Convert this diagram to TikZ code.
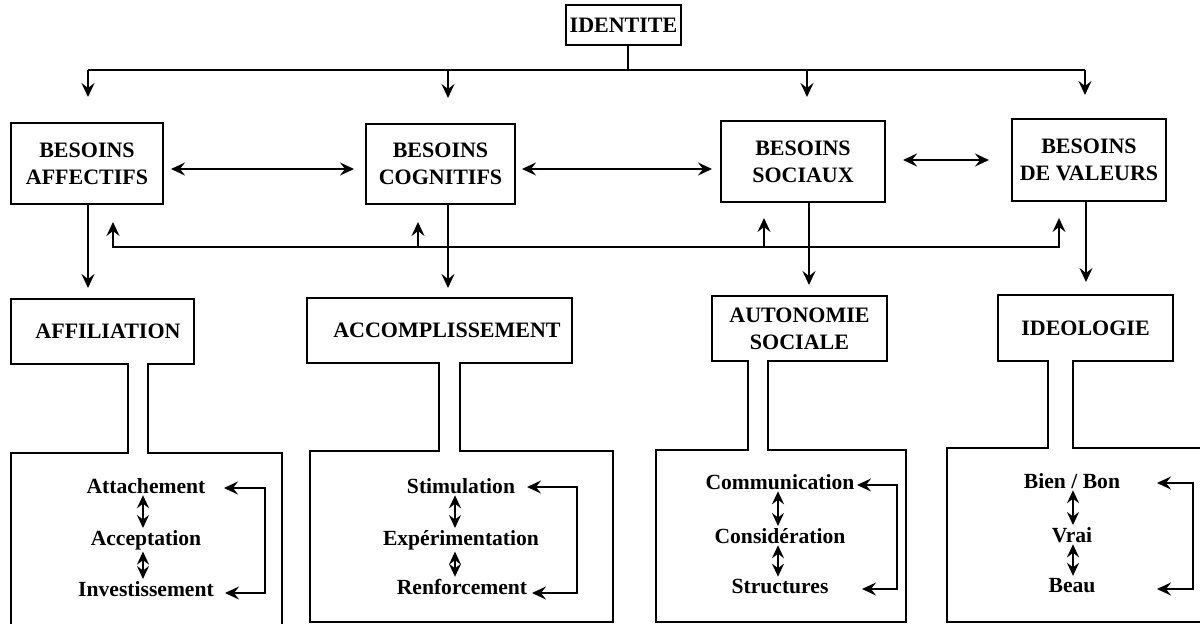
\documentclass[tikz,border=0pt]{standalone}
\usepackage{fontspec}
\setmainfont{Liberation Serif}
\usetikzlibrary{arrows.meta}
\begin{document}
\begin{tikzpicture}[x=1pt,y=-1pt,line width=2pt,
  ah/.tip={Stealth[length=14pt,width=13pt,inset=5pt]},
  sh/.tip={Stealth[length=13pt,width=12pt,inset=4.5pt]},
  arr/.style={-ah},
  darr/.style={ah-ah},
  sdarr/.style={sh-sh, shorten <=1pt, shorten >=1pt},
  hdr/.style={font=\fontsize{22}{27}\selectfont\bfseries, align=center, inner sep=0pt},
  bbox/.style={hdr, draw, line width=2pt},
  lbl/.style={font=\fontsize{21.6}{26}\selectfont\bfseries, inner sep=0pt, anchor=base},
  tshape/.style={line width=2pt, line join=miter}
]
\useasboundingbox (0,0) rectangle (1200,624);

% top level
\node[bbox, minimum width=115pt, minimum height=40pt] (id) at (623.5,25) {IDENTITE};
\node[bbox, minimum width=152pt, minimum height=81pt] (ba) at (87,163.5) {BESOINS\\AFFECTIFS};
\node[bbox, minimum width=149pt, minimum height=80pt] (bc) at (440.5,164) {BESOINS\\COGNITIFS};
\node[bbox, minimum width=164pt, minimum height=81pt] (bs) at (803,161.5) {BESOINS\\SOCIAUX};
\node[bbox, minimum width=154pt, minimum height=82pt] (bv) at (1089,160) {BESOINS\\DE VALEURS};

% bus from IDENTITE
\coordinate (s0) at (628,70);
\coordinate (b1) at (88,70);
\coordinate (b2) at (448,70);
\coordinate (b3) at (807,70);
\coordinate (b4) at (1085,70);
\draw (s0 |- id.south) -- (s0);
\draw (b1) -- (b4);
\draw[arr, shorten >=25pt] (b1) -- (b1 |- ba.north);
\draw[arr, shorten >=25pt] (b2) -- (b2 |- bc.north);
\draw[arr, shorten >=23pt] (b3) -- (b3 |- bs.north);
\draw[arr, shorten >=23pt] (b4) -- (b4 |- bv.north);

% horizontal double arrows
\draw[darr, shorten <=7pt, shorten >=11pt] ([yshift=-5.5pt]ba.east) -- ([yshift=-5pt]bc.west);
\draw[darr, shorten <=6pt, shorten >=8pt] ([yshift=-5pt]bc.east) -- ([yshift=-7.5pt]bs.west);
\draw[darr, shorten <=17pt, shorten >=22pt] ([yshift=1.5pt]bs.east) -- (bv.west);

% second level headers (text) and T outlines
\node[hdr, minimum width=183pt, minimum height=65pt] (h1) at (102.5,331.5) {\hspace*{11pt}AFFILIATION};
\node[hdr, minimum width=266pt, minimum height=65pt] (h2) at (440,330.5) {\hspace*{14pt}ACCOMPLISSEMENT};
\node[hdr, minimum width=175pt, minimum height=65pt] (h3) at (799.5,328.5) {AUTONOMIE\\SOCIALE};
\node[hdr, minimum width=175pt, minimum height=66pt] (h4) at (1085.5,328) {IDEOLOGIE};

\draw[tshape] (11,624) -- (11,453) -- (128,453) -- (128,364) -- (11,364) -- (11,299)
  -- (194,299) -- (194,364) -- (148,364) -- (148,453) -- (282,453) -- (282,624);
\draw[tshape] (307,298) -- (572,298) -- (572,363) -- (460,363) -- (460,451) -- (613,451)
  -- (613,622) -- (310,622) -- (310,451) -- (439,451) -- (439,363) -- (307,363) -- cycle;
\draw[tshape] (712,296) -- (887,296) -- (887,361) -- (768,361) -- (768,450) -- (906,450)
  -- (906,622) -- (656,622) -- (656,450) -- (748,450) -- (748,361) -- (712,361) -- cycle;
\draw[tshape] (1201,448) -- (1073,448) -- (1073,361) -- (1173,361) -- (1173,295) -- (998,295)
  -- (998,361) -- (1048,361) -- (1048,448) -- (947,448) -- (947,622) -- (1201,622);

% arrows down from besoins to second level
\draw[arr, shorten >=10pt] (b1 |- ba.south) -- (b1 |- h1.north);
\draw[arr, shorten >=9pt] (b2 |- bc.south) -- (b2 |- h2.north);
\coordinate (d3) at (809,0);
\coordinate (d4) at (1086,0);
\draw[arr, shorten >=10pt] (d3 |- bs.south) -- (d3 |- h3.north);
\draw[arr, shorten >=12pt] (d4 |- bv.south) -- (d4 |- h4.north);

% feedback line
\coordinate (f1) at (113,246.5);
\coordinate (f2) at (418,246.5);
\coordinate (f3) at (764,246.5);
\coordinate (f4) at (1059,246.5);
\draw[darr, shorten <=17pt, shorten >=16pt] (f1 |- ba.south) -- (f1) -- (f4) -- (f4 |- bv.south);
\draw[arr, shorten >=17pt] (f2) -- (f2 |- bc.south);
\draw[arr, shorten >=15pt] (f3) -- (f3 |- bs.south);

% lower box 1
\node[lbl] (t11) at (146,493) {Attachement};
\node[lbl] (t12) at (146,545) {Acceptation};
\node[lbl] (t13) at (146,596) {Investissement};
\coordinate (v1) at (143,0);
\draw[sdarr] (v1 |- t11.south) -- (v1 |- t12.north);
\draw[sdarr] (v1 |- t12.south) -- (v1 |- t13.north);
\coordinate (l1a) at (224,488);
\coordinate (l1b) at (225,593);
\draw[darr] (l1a) -- ++(41,0) |- (l1b);

% lower box 2
\node[lbl] (t21) at (461,493) {Stimulation};
\node[lbl] (t22) at (461,545) {Expérimentation};
\node[lbl] (t23) at (462,594) {Renforcement};
\coordinate (v2) at (455,0);
\draw[sdarr] (v2 |- t21.south) -- (v2 |- t22.north);
\draw[sdarr] (v2 |- t22.south) -- (v2 |- t23.north);
\coordinate (l2a) at (527,487);
\coordinate (l2b) at (532,593);
\draw[darr] (l2a) -- ++(50,0) |- (l2b);

% lower box 3
\node[lbl] (t31) at (780,489) {Communication};
\node[lbl] (t32) at (780,543) {Considération};
\node[lbl] (t33) at (780,593) {Structures};
\coordinate (v3) at (778,0);
\draw[sdarr] (v3 |- t31.south) -- (v3 |- t32.north);
\draw[sdarr] (v3 |- t32.south) -- (v3 |- t33.north);
\coordinate (l3a) at (857,485);
\coordinate (l3b) at (862,589);
\draw[darr] (l3a) -- ++(40,0) |- (l3b);

% lower box 4
\node[lbl] (t41) at (1072,488) {Bien / Bon};
\node[lbl] (t42) at (1072,542) {Vrai};
\node[lbl] (t43) at (1072,592) {Beau};
\coordinate (v4) at (1073,0);
\draw[sdarr] (v4 |- t41.south) -- (v4 |- t42.north);
\draw[sdarr] (v4 |- t42.south) -- (v4 |- t43.north);
\coordinate (l4a) at (1157,483);
\coordinate (l4b) at (1157,589);
\draw[darr] (l4a) -- ++(36,0) |- (l4b);
\end{tikzpicture}
\end{document}
